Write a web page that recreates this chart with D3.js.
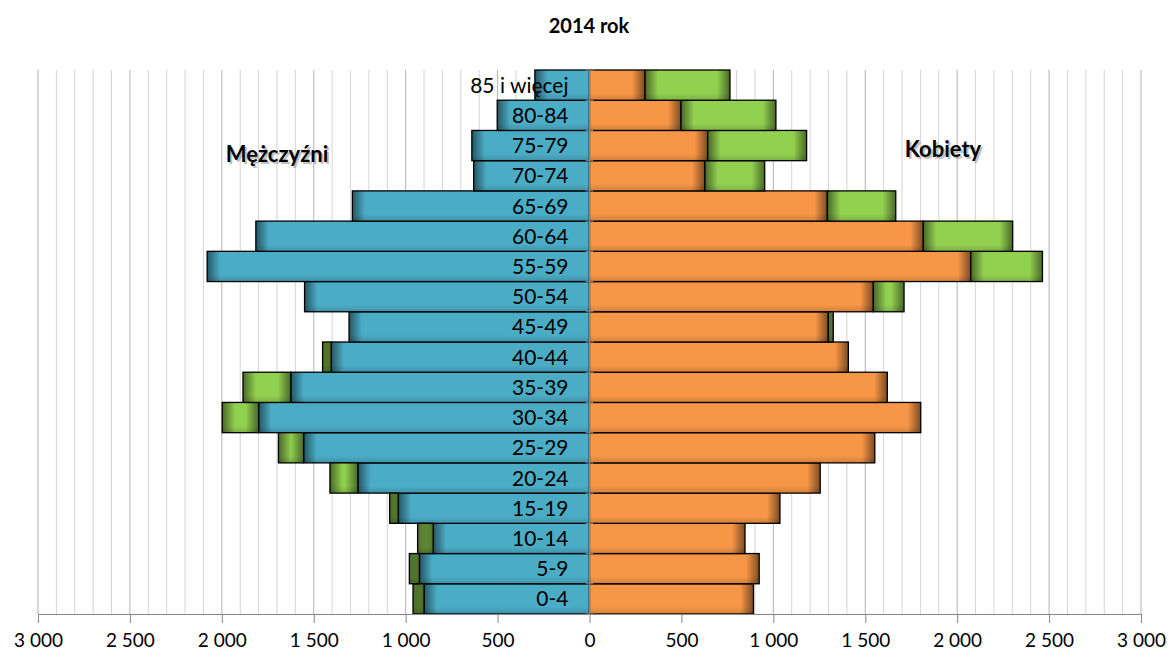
<!DOCTYPE html>
<html>
<head>
<meta charset="utf-8">
<script src="https://cdn.jsdelivr.net/npm/d3@7"></script>
<style>
  body { margin: 0; background: #fff; }
  svg { display: block; font-family: Lato, "Noto Sans", sans-serif; }
</style>
</head>
<body>
<div id="chart"></div>
<script>
// age groups, bottom to top
var ageGroups = ["0-4", "5-9", "10-14", "15-19", "20-24", "25-29", "30-34", "35-39", "40-44",
    "45-49", "50-54", "55-59", "60-64", "65-69", "70-74", "75-79", "80-84", "85 i więcej"];

// men (blue) and the green part added on top of it
var menBase  = [900, 925, 850, 1040, 1260, 1555, 1800, 1625, 1405, 1308, 1550, 2080, 1815, 1290, 630, 640, 502, 297];
var menExtra = [60, 55, 85, 47, 152, 137, 198, 260, 47, 0, 0, 0, 0, 0, 0, 0, 0, 0];

// women (orange) and the green part
var womenBase  = [892, 923, 846, 1036, 1255, 1552, 1802, 1620, 1408, 1299, 1544, 2074, 1816, 1294, 628, 643, 498, 302];
var womenExtra = [0, 0, 0, 0, 0, 0, 0, 0, 0, 27, 167, 390, 486, 372, 325, 538, 516, 462];

var xTicks = [-3000, -2500, -2000, -1500, -1000, -500, 0, 500, 1000, 1500, 2000, 2500, 3000];

var W = 1171, H = 657;
var svg = d3.select("#chart").append("svg")
    .attr("width", W)
    .attr("height", H);

var defs = svg.append("defs");

// gradients for the dark shading at bar edges
function shade(id, x1, y1, x2, y2, op) {
    var g = defs.append("linearGradient").attr("id", id)
        .attr("x1", x1).attr("y1", y1).attr("x2", x2).attr("y2", y2);
    g.append("stop").attr("offset", 0).attr("stop-color", "#000").attr("stop-opacity", op);
    g.append("stop").attr("offset", 1).attr("stop-color", "#000").attr("stop-opacity", 0);
}
shade("darkL", 0, 0, 1, 0, 0.5);
shade("darkR", 1, 0, 0, 0, 0.5);
shade("darkB", 0, 1, 0, 0, 0.15);

var x = d3.scaleLinear()
    .domain([-3000, 3000])
    .range([38, 1141]);

var y = d3.scaleBand()
    .domain(ageGroups.slice().reverse())
    .range([70, 614])
    .padding(0);

// vertical gridlines every 100
var grid = svg.append("g");
grid.selectAll("line")
    .data(d3.range(-3000, 3001, 100))
    .join("line")
    .attr("x1", d => x(d)).attr("x2", d => x(d))
    .attr("y1", 70).attr("y2", 614)
    .attr("stroke", d => d % 500 === 0 ? "#b3b3b3" : "#d4d4d4")
    .attr("stroke-width", 1);

var rows = ageGroups.map(function (g, i) {
    return { g: g, mb: menBase[i], me: menExtra[i], wb: womenBase[i], we: womenExtra[i] };
});

// draws one series; ends = which ends get the dark edge ("L", "R")
function series(color, x0, x1, ends) {
    var list = rows.filter(d => x0(d) !== x1(d)).map(function (d) {
        var a = x(x0(d)), b = x(x1(d));
        return { g: d.g, left: Math.min(a, b), w: Math.abs(b - a) };
    });
    var g = svg.append("g");
    var bars = g.selectAll("g")
        .data(list)
        .join("g");
    bars.append("rect")
        .attr("x", d => d.left).attr("width", d => d.w)
        .attr("y", d => y(d.g)).attr("height", y.bandwidth())
        .attr("fill", color);
    bars.append("rect")
        .attr("x", d => d.left).attr("width", d => d.w)
        .attr("y", d => y(d.g) + y.bandwidth() - 7).attr("height", 7)
        .attr("fill", "url(#darkB)");
    ends.forEach(function (e) {
        bars.append("rect")
            .attr("x", d => e === "L" ? d.left : d.left + d.w - Math.min(13, d.w))
            .attr("width", d => Math.min(13, d.w))
            .attr("y", d => y(d.g)).attr("height", y.bandwidth())
            .attr("fill", e === "L" ? "url(#darkL)" : "url(#darkR)");
    });
    bars.append("rect")
        .attr("x", d => d.left).attr("width", d => d.w)
        .attr("y", d => y(d.g)).attr("height", y.bandwidth())
        .attr("fill", "none")
        .attr("stroke", "#000")
        .attr("stroke-width", 1.3);
}

series("#4bacc6", d => 0, d => -d.mb, ["L"]);
series("#92d050", d => -d.mb, d => -(d.mb + d.me), ["L", "R"]);
series("#f79646", d => 0, d => d.wb, ["R"]);
series("#92d050", d => d.wb, d => d.wb + d.we, ["L", "R"]);

// category axis at zero
var cat = svg.append("g");
cat.append("line")
    .attr("x1", x(0)).attr("x2", x(0))
    .attr("y1", 70).attr("y2", 614)
    .attr("stroke", "#868686");
cat.selectAll(".ct")
    .data(d3.range(0, ageGroups.length + 1))
    .join("line")
    .attr("class", "ct")
    .attr("x1", x(0) - 4).attr("x2", x(0) + 4)
    .attr("y1", i => 70 + i * y.step()).attr("y2", i => 70 + i * y.step())
    .attr("stroke", "#868686");

cat.selectAll("text")
    .data(ageGroups)
    .join("text")
    .attr("x", x(0) - 21)
    .attr("y", d => y(d) + y.bandwidth() / 2)
    .attr("dy", "0.36em")
    .attr("text-anchor", "end")
    .attr("font-size", "21px")
    .attr("fill", "#000")
    .text(d => d);

// value axis
function fmt(d) {
    var v = Math.abs(d);
    return v >= 1000 ? d3.format(",")(v).replace(",", " ") : String(v);
}
var xAxis = svg.append("g")
    .attr("transform", "translate(0,614)")
    .call(d3.axisBottom(x).tickValues(xTicks).tickSize(9).tickSizeOuter(0).tickFormat(fmt));
xAxis.select(".domain").attr("stroke", "#868686");
xAxis.selectAll(".tick line").attr("stroke", "#868686");
xAxis.selectAll(".tick text")
    .attr("y", 20)
    .attr("font-family", "Lato, 'Noto Sans', sans-serif")
    .attr("font-size", "19px")
    .attr("fill", "#000");

// titles
svg.append("text")
    .attr("x", 589).attr("y", 33)
    .attr("text-anchor", "middle")
    .attr("font-size", "20px")
    .attr("font-weight", "bold")
    .text("2014 rok");

function sideLabel(txt, cx, by) {
    svg.append("text")
        .attr("x", cx + 2).attr("y", by + 2)
        .attr("text-anchor", "middle")
        .attr("font-size", "22px")
        .attr("font-weight", "bold")
        .attr("fill", "#9a9a9a")
        .attr("opacity", 0.6)
        .text(txt);
    svg.append("text")
        .attr("x", cx).attr("y", by)
        .attr("text-anchor", "middle")
        .attr("font-size", "22px")
        .attr("font-weight", "bold")
        .attr("fill", "#000")
        .text(txt);
}
sideLabel("Mężczyźni", 277, 162);
sideLabel("Kobiety", 943, 157);
</script>
</body>
</html>
